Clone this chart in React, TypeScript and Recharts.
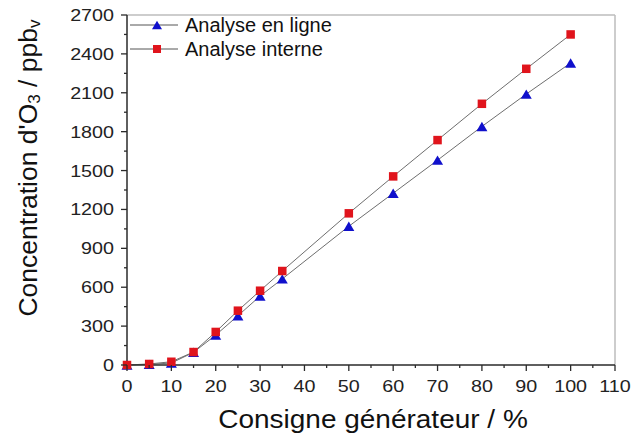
import { LineChart, Line, XAxis, YAxis, ReferenceLine, Label } from 'recharts';

const consigne = [0, 5, 10, 15, 20, 25, 30, 35, 50, 60, 70, 80, 90, 100];
const enLigne = [0, 5, 15, 98, 231, 380, 532, 664, 1070, 1325, 1580, 1840, 2090, 2330];
const interne = [0, 8, 25, 100, 255, 419, 573, 725, 1170, 1455, 1735, 2015, 2285, 2550];

const yTicks = Array.from({ length: 19 }, (_, i) => i * 150);
const xTicks = Array.from({ length: 23 }, (_, i) => i * 5);

const W = 632;
const H = 433;
const M_TOP = 15;
const M_RIGHT = 17;
const Y_W = 127;
const X_H = 68;
const PLOT_LEFT = Y_W;
const PLOT_BOTTOM = H - X_H;

const FONT = '"Liberation Sans", Arial, sans-serif';
const AXIS = '#2a2a2a';
const BLUE = '#1010cc';
const RED = '#e0141c';
// the source figure is a bit stretched sideways
const STRETCH = 1.16;

const data = consigne.map((x, i) => ({ x, enLigne: enLigne[i], interne: interne[i] }));

const Triangle = ({ cx, cy, size = 11 }: { cx: number; cy: number; size?: number }) => {
  const h = size * 0.85;
  return (
    <polygon
      points={`${cx},${cy - h / 2} ${cx - size / 2},${cy + h / 2} ${cx + size / 2},${cy + h / 2}`}
      fill={BLUE}
    />
  );
};

const Square = ({ cx, cy, size = 8.5 }: { cx: number; cy: number; size?: number }) => (
  <rect x={cx - size / 2} y={cy - size / 2} width={size} height={size} fill={RED} />
);

const YTick = (props: any) => {
  const { y, payload } = props;
  const v = payload.value;
  const major = v % 300 === 0;
  return (
    <g>
      <line x1={PLOT_LEFT} x2={PLOT_LEFT - (major ? 6 : 3)} y1={y} y2={y} stroke={AXIS} strokeWidth={1.3} />
      {major && (
        <text
          transform={`translate(${PLOT_LEFT - 13},${y + 6}) scale(${STRETCH},1)`}
          textAnchor="end"
          fontSize={17}
          fill="#222"
          fontFamily={FONT}
        >
          {v}
        </text>
      )}
    </g>
  );
};

const XTick = (props: any) => {
  const { x, payload } = props;
  const v = payload.value;
  const major = v % 10 === 0;
  return (
    <g>
      <line x1={x} x2={x} y1={PLOT_BOTTOM} y2={PLOT_BOTTOM + (major ? 6 : 3)} stroke={AXIS} strokeWidth={1.3} />
      {major && (
        <text
          transform={`translate(${x},${PLOT_BOTTOM + 27}) scale(${STRETCH},1)`}
          textAnchor="middle"
          fontSize={17}
          fill="#222"
          fontFamily={FONT}
        >
          {v}
        </text>
      )}
    </g>
  );
};

const XTitle = (props: any) => {
  const { viewBox } = props;
  const cx = viewBox.x + viewBox.width / 2 + 2;
  return (
    <text
      transform={`translate(${cx},${H - 5}) scale(1.12,1)`}
      textAnchor="middle"
      fontSize={25}
      fill="#111"
      fontFamily={FONT}
    >
      Consigne générateur / %
    </text>
  );
};

const YTitle = (props: any) => {
  const { viewBox } = props;
  const cx = 28;
  const cy = viewBox.y + viewBox.height / 2 - 22;
  return (
    <text
      x={cx}
      y={cy}
      transform={`rotate(-90 ${cx} ${cy})`}
      textAnchor="middle"
      dominantBaseline="central"
      fontSize={26.5}
      fill="#111"
      fontFamily={FONT}
    >
      Concentration d'O
      <tspan fontSize={17} dy={6}>3</tspan>
      <tspan dy={-6}> / ppb</tspan>
      <tspan fontSize={17} dy={6}>v</tspan>
    </text>
  );
};

const series = [
  { key: 'enLigne', name: 'Analyse en ligne', marker: 'triangle' },
  { key: 'interne', name: 'Analyse interne', marker: 'square' },
];

export default function App() {
  return (
    <div style={{ position: 'relative', width: W, height: H, background: '#fff' }}>
      <style>{`body{margin:0}`}</style>
      <LineChart
        width={W}
        height={H}
        data={data}
        margin={{ top: M_TOP, right: M_RIGHT, left: 0, bottom: 0 }}
      >
        <XAxis
          dataKey="x"
          type="number"
          domain={[0, 110]}
          ticks={xTicks}
          interval={0}
          height={X_H}
          stroke={AXIS}
          strokeWidth={1.5}
          tickLine={false}
          tick={<XTick />}
        >
          <Label content={<XTitle />} />
        </XAxis>
        <YAxis
          type="number"
          domain={[0, 2700]}
          ticks={yTicks}
          interval={0}
          width={Y_W}
          stroke={AXIS}
          strokeWidth={1.5}
          tickLine={false}
          tick={<YTick />}
        >
          <Label content={<YTitle />} />
        </YAxis>
        <ReferenceLine y={2700} stroke="#bdbdbd" strokeWidth={1.5} />
        <ReferenceLine x={110} stroke="#bdbdbd" strokeWidth={1.5} />
        <Line
          type="linear"
          dataKey="enLigne"
          stroke="#6e6e6e"
          strokeWidth={1}
          isAnimationActive={false}
          dot={(p: any) => <Triangle key={`t${p.index}`} cx={p.cx} cy={p.cy} />}
        />
        <Line
          type="linear"
          dataKey="interne"
          stroke="#6e6e6e"
          strokeWidth={1}
          isAnimationActive={false}
          dot={(p: any) => <Square key={`s${p.index}`} cx={p.cx} cy={p.cy} />}
        />
      </LineChart>
      <div
        style={{
          position: 'absolute',
          left: 130,
          top: 13,
          fontFamily: FONT,
          fontSize: 20,
          color: '#111',
          lineHeight: '24px',
        }}
      >
        {series.map((s) => (
          <div key={s.key} style={{ display: 'flex', alignItems: 'center' }}>
            <svg width={50} height={14} style={{ marginRight: 5 }}>
              <line x1={0} x2={48} y1={7} y2={7} stroke="#555" strokeWidth={1} />
              {s.marker === 'triangle' ? <Triangle cx={27} cy={7} size={10} /> : <Square cx={27} cy={7} size={8} />}
            </svg>
            <span>{s.name}</span>
          </div>
        ))}
      </div>
    </div>
  );
}
